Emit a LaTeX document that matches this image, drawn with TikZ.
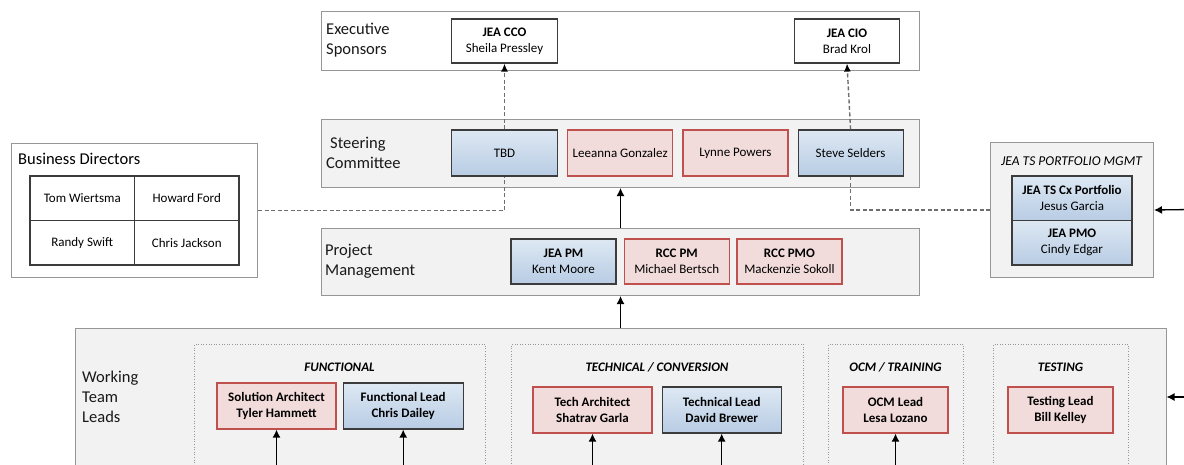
\documentclass[tikz,border=0pt]{standalone}
\usepackage{fontspec}
\setmainfont{Carlito}
\usetikzlibrary{arrows.meta,positioning}
\definecolor{panelfill}{HTML}{F2F2F2}
\definecolor{panelline}{HTML}{969696}
\definecolor{boxline}{HTML}{3C3C3C}
\definecolor{bluetop}{HTML}{DDE8F3}
\definecolor{bluebot}{HTML}{B8CCE4}
\definecolor{redfill}{HTML}{F2DCDB}
\definecolor{redline}{HTML}{C0504D}
\definecolor{dashline}{HTML}{6E6E6E}
\tikzset{
  panel/.style={draw=panelline, fill=panelfill, line width=1pt, anchor=north west, inner sep=0},
  group/.style={draw=panelline, dotted, line width=0.6pt, anchor=north west, inner sep=0},
  rowlabel/.style={anchor=west, align=left, inner sep=0, text=black!90, font=\fontsize{16.5}{20}\selectfont},
  grouplabel/.style={inner sep=0, font=\fontsize{13}{15}\selectfont\bfseries\itshape},
  person/.style={align=center, inner sep=0, font=\fontsize{13}{16}\selectfont, minimum height=46},
  lead/.style={font=\fontsize{13}{16}\selectfont\bfseries},
  bluebox/.style={person, draw=boxline, line width=1.2pt, top color=bluetop, bottom color=bluebot},
  redbox/.style={person, draw=redline, line width=1.2pt, fill=redfill},
  whitebox/.style={person, draw=boxline, line width=1.2pt, fill=white, minimum height=44},
  cell/.style={person, draw=boxline, line width=1.2pt, outer sep=0, minimum width=104.5, minimum height=44.5},
  link/.style={-{Latex[length=8,width=8]}, line width=1.3pt},
  dashlink/.style={draw=dashline, dash pattern=on 4pt off 2.5pt, line width=1.4pt},
  dashtip/.style={-{Latex[length=8,width=7,color=black]}}
}
\begin{document}
\begin{tikzpicture}[x=1pt,y=-1pt]
\useasboundingbox (0,0) rectangle (1184,464);
\clip (0,0) rectangle (1184,464);

\node[panel, fill=white, minimum width=598, minimum height=59] (exec) at (321,11) {};
\node[rowlabel] (execlbl) at (326,40.5) {Executive\\Sponsors};
\node[whitebox, minimum width=106] (cco) at (504.5,41) {\textbf{JEA CCO}\\Sheila Pressley};
\node[whitebox, minimum width=105] (cio) at (847,41) {\textbf{JEA CIO}\\Brad Krol};

\node[panel, minimum width=598, minimum height=68] (steer) at (321,119) {};
\node[rowlabel] (steerlbl) at (326,153) {\hspace*{4pt}Steering\\Committee};
\node[bluebox, minimum width=106] (tbd) at (504.5,153) {TBD};
\node[redbox, minimum width=105, right=9 of tbd] (leeanna) {Leeanna Gonzalez};
\node[redbox, minimum width=105, right=9 of leeanna] (lynne) {Lynne Powers};
\node[bluebox, minimum width=105, right=9 of lynne] (steve) {Steve Selders};

\node[panel, minimum width=598, minimum height=67] (pm) at (321,228) {};
\node[rowlabel] (pmlbl) at (325,261.5) {Project\\Management};
\node[bluebox, minimum width=105, minimum height=45] (jeapm) at (563.5,261.5) {\textbf{JEA PM}\\Kent Moore};
\node[redbox, minimum width=105, minimum height=45, right=7 of jeapm] (rccpm) {\textbf{RCC PM}\\Michael Bertsch};
\node[redbox, minimum width=105, minimum height=45, right=6.5 of rccpm] (rccpmo) {\textbf{RCC PMO}\\Mackenzie Sokoll};

\node[panel, fill=white, minimum width=246, minimum height=134] (bd) at (11,143) {};
\node[anchor=west, inner sep=0, font=\fontsize{16.5}{20}\selectfont] (bdlbl) at (18,159) {Business Directors};
\node[cell, fill=white] (tom) at (82.25,198.25) {Tom Wiertsma};
\node[cell, fill=white, right=0 of tom] (howard) {Howard Ford};
\node[cell, fill=white, below=0 of tom] (randy) {Randy Swift};
\node[cell, fill=white, right=0 of randy] (chris) {Chris Jackson};

\node[panel, minimum width=163, minimum height=135] (ts) at (990,142) {};
\node[inner sep=0, font=\fontsize{13.5}{15}\selectfont\itshape] (tslbl) at (1071.5,161) {JEA TS PORTFOLIO MGMT};
\node[bluebox, outer sep=0, minimum width=120, minimum height=44.5] (cxp) at (1072,198.25) {\textbf{JEA TS Cx Portfolio}\\Jesus Garcia};
\node[bluebox, outer sep=0, minimum width=120, minimum height=44.5, below=0 of cxp] (jeapmo) {\textbf{JEA PMO}\\Cindy Edgar};

\node[panel, minimum width=1091, minimum height=160] (wt) at (74.5,328) {};
\node[rowlabel] (wtlbl) at (82,397) {Working\\Team\\Leads};
\node[group, minimum width=291, minimum height=140] (func) at (194,344) {};
\node[group, minimum width=292, minimum height=140] (tech) at (511,344) {};
\node[group, minimum width=135, minimum height=140] (ocm) at (828,344) {};
\node[group, minimum width=135, minimum height=140] (test) at (993,344) {};
\node[grouplabel] (funclbl) at (339.5,367) {FUNCTIONAL};
\node[grouplabel] (techlbl) at (657,367) {TECHNICAL / CONVERSION};
\node[grouplabel] (ocmlbl) at (895.5,367) {OCM / TRAINING};
\node[grouplabel] (testlbl) at (1060.5,367) {TESTING};
\node[redbox, lead, minimum width=119] (solarch) at (276.5,406) {Solution Architect\\Tyler Hammett};
\node[bluebox, lead, minimum width=120, right=6 of solarch] (funclead) {Functional Lead\\Chris Dailey};
\node[redbox, lead, minimum width=119] (techarch) at (592.5,410) {Tech Architect\\Shatrav Garla};
\node[bluebox, lead, minimum width=119, right=9 of techarch] (techlead) {Technical Lead\\David Brewer};
\node[redbox, lead, minimum width=105] (ocmlead) at (895.5,410) {OCM Lead\\Lesa Lozano};
\node[redbox, lead, minimum width=105] (testlead) at (1060.5,410) {Testing Lead\\Bill Kelley};

\draw[dashlink] (bd.east) -| (tbd.south);
\draw[dashlink, dashtip] (tbd.north) -- (cco.south);
\draw[dashlink] (ts.west) -| (steve.south);
\draw[dashlink, dashtip] (steve.north) -- (cio.south);
\draw[link] (pm.north) -- (steer.south);
\draw[link] (wt.north) -- (pm.south);
\coordinate (tsin) at (1190,209.5);
\coordinate (wtin) at (1190,397);
\draw[link] (tsin) -- (ts.east);
\draw[link] (wtin) -- (wtin -| wt.east);
\coordinate (base) at (0,472);
\foreach \n in {solarch,funclead,techarch,techlead,ocmlead}
  \draw[link] (\n.south |- base) -- (\n.south);
\end{tikzpicture}
\end{document}
